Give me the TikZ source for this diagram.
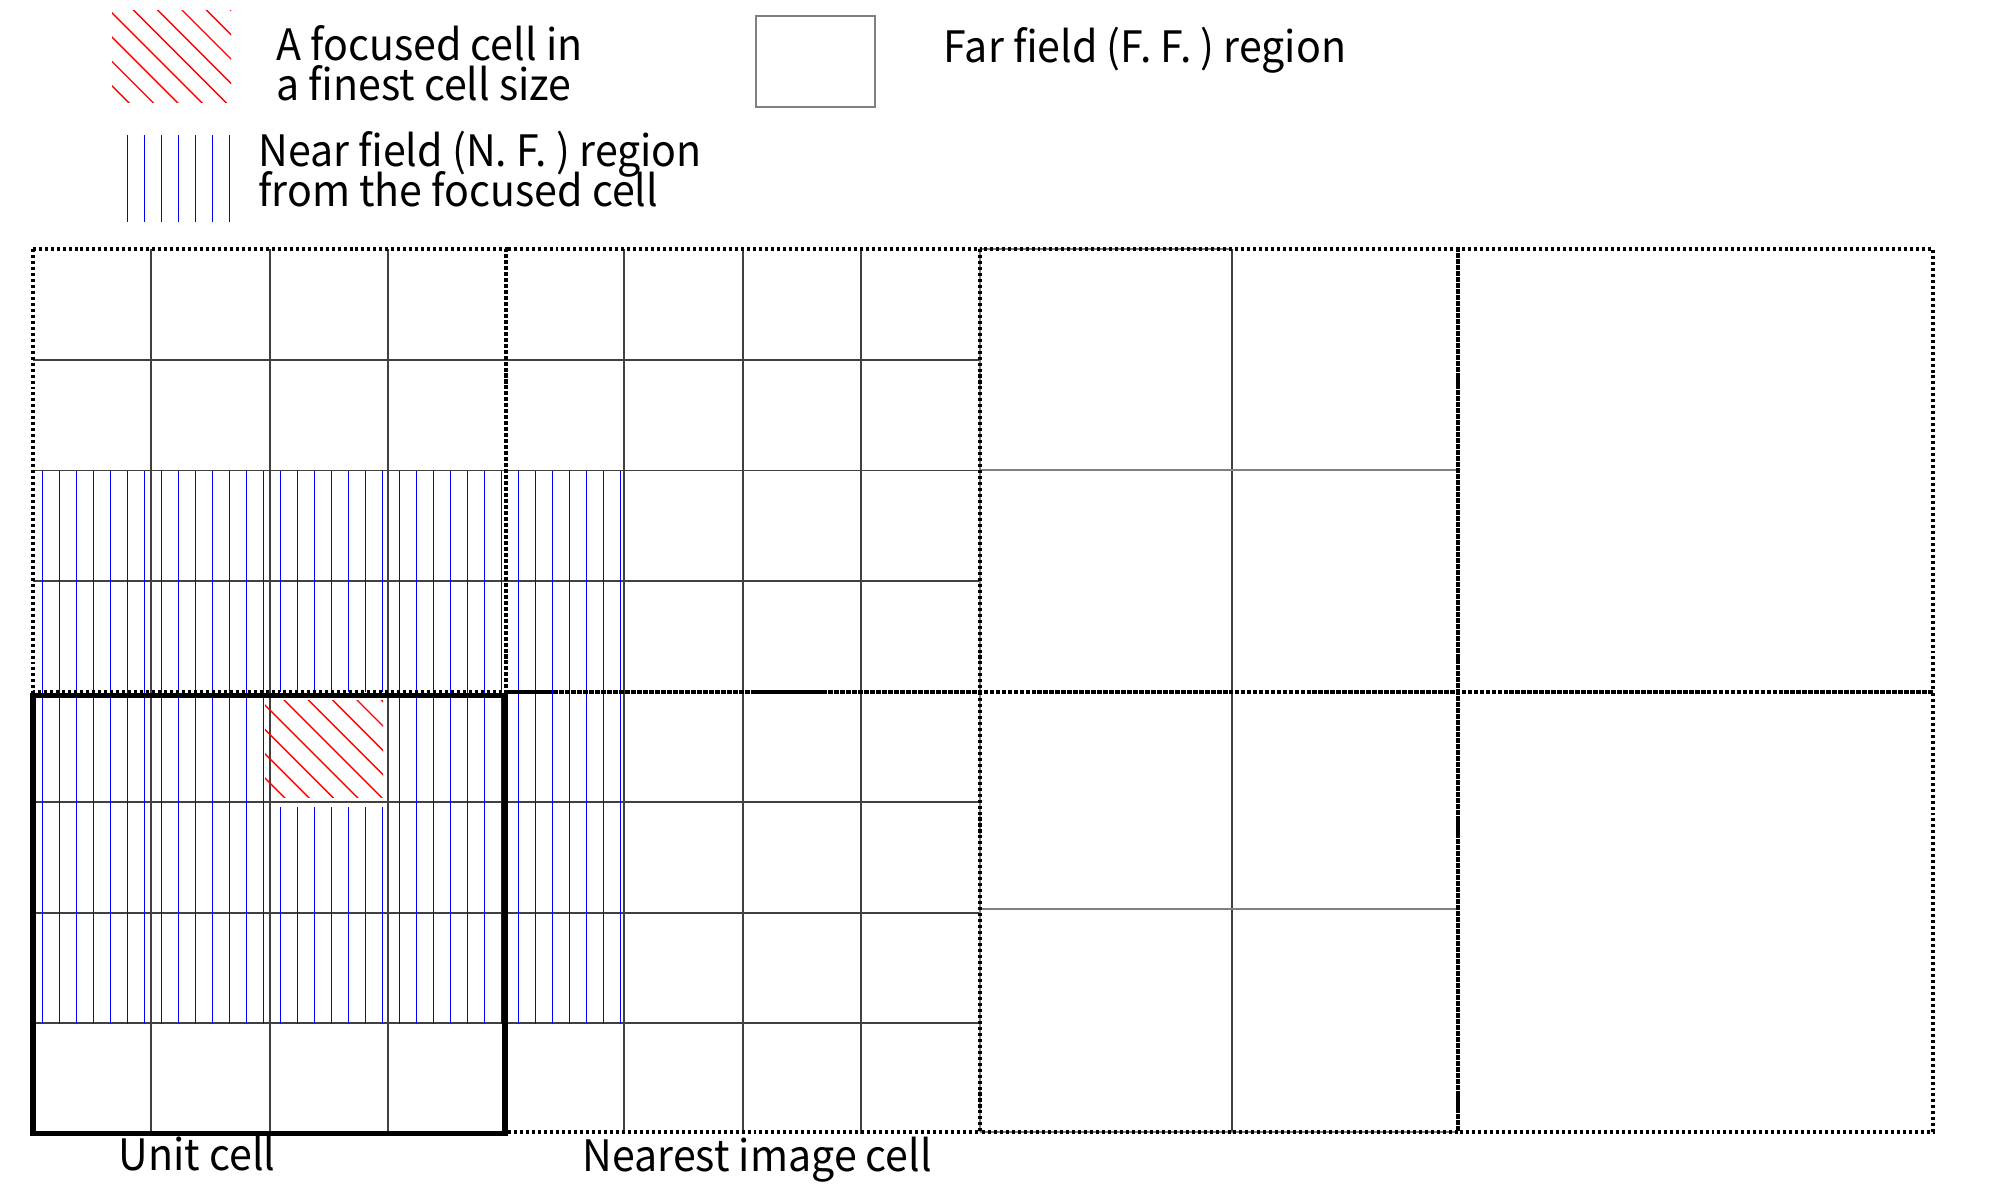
\documentclass[tikz,border=0pt]{standalone}
\usepackage{fontspec}
\setmainfont{Noto Sans CJK JP}[FakeStretch=0.95]
\begin{document}
\begin{tikzpicture}[x=0.01cm,y=-0.01cm,
  gridline/.style={black!75, line width=0.55pt},
  ffline/.style={black!50, line width=0.55pt},
  dotbox/.style={black, line width=0.9pt, dash pattern=on 0.85pt off 0.85pt},
  unitbox/.style={black, line width=1.5pt},
  nfline/.style={blue, line width=0.4pt},
  fcline/.style={red, line width=0.4pt},
  lbl/.style={inner sep=0pt, anchor=base west, font=\fontsize{12.3}{15}\selectfont}]
\useasboundingbox (0,0) rectangle (2000,1200);

% ---------- legend ----------
\begin{scope}
  \clip (112,10) rectangle (231,102);
  \foreach \k in {0,...,9} {
    \draw[fcline] ({1.9+24.3*\k},0) -- ({121.9+24.3*\k},120);
  }
\end{scope}
\foreach \k in {0,...,6} {
  \draw[nfline] ({127.6+17*\k},135) -- ({127.6+17*\k},222);
}
\draw[black!50, line width=0.55pt] (756,16) rectangle (875,107);

\node[lbl] (t1a) at (275.5,60.7) {A focused cell in};
\node[lbl] (t1b) at (275.5,100) {a finest cell size};
\node[lbl] (t2a) at (257.7,166.7) {Near field (N. F. ) region};
\node[lbl] (t2b) at (257.7,206.7) {from the focused cell};
\node[lbl] (t3) at (943,62.7) {Far field (F. F. ) region};

% ---------- fine grids (unit cell and nearest image cells) ----------
\foreach \bx in {33,506} {
  \foreach \i in {1,2,3} {
    \draw[gridline] ({\bx+118.3*\i},249) -- ({\bx+118.3*\i},692);
    \draw[gridline] (\bx,{249+110.75*\i}) -- ({\bx+473},{249+110.75*\i});
    \draw[gridline] ({\bx+118.3*\i},692) -- ({\bx+118.3*\i},1134);
    \draw[gridline] (\bx,{692+110.3*\i}) -- ({\bx+473},{692+110.3*\i});
  }
}

% ---------- far field coarse cells ----------
\draw[gridline] (1232,249) -- (1232,692);
\draw[ffline] (980,470) -- (1458,470);
\draw[gridline] (1232,692) -- (1232,1132);
\draw[ffline] (980,909) -- (1458,909);
\draw[ffline] (980,249) -- (980,1132);
\draw[ffline] (980,249) -- (1232,249);
\draw[ffline] (980,1132) -- (1458,1132);

% ---------- near field region ----------
\foreach \k in {0,...,34} {
  \pgfmathsetmacro{\xx}{42.3+17*\k}
  \ifnum\k<14
    \draw[nfline] (\xx,471) -- (\xx,1024);
  \else\ifnum\k>20
    \draw[nfline] (\xx,471) -- (\xx,1024);
  \else
    \draw[nfline] (\xx,471) -- (\xx,692);
    \draw[nfline] (\xx,807) -- (\xx,1024);
  \fi\fi
}

% ---------- focused cell ----------
\begin{scope}
  \clip (265,700) rectangle (383,797);
  \foreach \k in {0,...,9} {
    \draw[fcline] ({-318.7-24.3*\k+690},690) -- ({-318.7-24.3*\k+810},810);
  }
\end{scope}

% ---------- block borders ----------
\draw[dotbox] (33,249) rectangle (506,692);
\draw[dotbox] (506,249) rectangle (980,692);
\draw[dotbox] (980,249) rectangle (1458,692);
\draw[dotbox] (1458,249) rectangle (1933,692);
\draw[dotbox] (506,692) rectangle (980,1132);
\draw[dotbox] (980,692) rectangle (1458,1132);
\draw[dotbox] (1458,692) rectangle (1933,1132);
\draw[unitbox] (33,695.7) rectangle (505,1133.3);

\node[lbl] (t4) at (118,1170.7) {Unit cell};
\node[lbl] (t5) at (582,1171) {Nearest image cell};
\end{tikzpicture}
\end{document}
